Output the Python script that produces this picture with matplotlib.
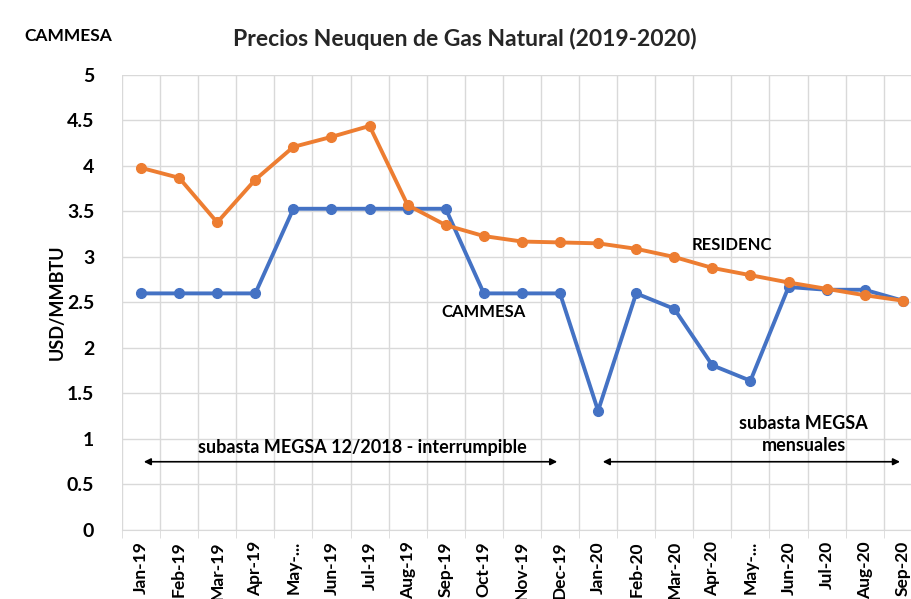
import matplotlib.pyplot as plt
import numpy as np

plt.rcParams["font.family"] = ["Lato", "DejaVu Sans"]

months = ["Jan-19", "Feb-19", "Mar-19", "Apr-19", "May-...", "Jun-19", "Jul-19",
          "Aug-19", "Sep-19", "Oct-19", "Nov-19", "Dec-19", "Jan-20", "Feb-20",
          "Mar-20", "Apr-20", "May-...", "Jun-20", "Jul-20", "Aug-20", "Sep-20"]
residenc = [3.98, 3.87, 3.38, 3.85, 4.21, 4.32, 4.44, 3.57, 3.35, 3.23, 3.17,
            3.16, 3.15, 3.09, 3.00, 2.88, 2.80, 2.72, 2.65, 2.58, 2.52]
cammesa = [2.60, 2.60, 2.60, 2.60, 3.53, 3.53, 3.53, 3.53, 3.53, 2.60, 2.60,
           2.60, 1.31, 2.60, 2.43, 1.81, 1.64, 2.67, 2.64, 2.64, 2.52]

fig = plt.figure(figsize=(9.11, 5.99), dpi=100)
ax = fig.add_axes([0.1339, 0.1152, 0.878, 0.7596])

x = np.arange(len(months))
ax.plot(x, cammesa, color="#4472C4", lw=2.8, marker="o", ms=7, zorder=3)
ax.plot(x, residenc, color="#ED7D31", lw=2.8, marker="o", ms=7, zorder=4)

ax.set_xlim(-0.5, len(months) - 0.5)
ax.set_ylim(0, 5)
ax.set_yticks(np.arange(0, 5.01, 0.5))
ax.set_yticklabels(["0", "0.5", "1", "1.5", "2", "2.5", "3", "3.5", "4", "4.5", "5"],
                   fontsize=14, fontweight="bold")
ax.set_xticks(x)
ax.set_xticklabels(months, rotation=90, fontsize=12.5, fontweight="bold")
ax.set_xticks(np.arange(-0.5, len(months), 1), minor=True)
ax.tick_params(axis="x", which="major", length=0, pad=8)
ax.tick_params(axis="x", which="minor", length=6, color="#d9d9d9")
ax.tick_params(axis="y", length=0, pad=20)

ax.grid(axis="y", color="#d9d9d9", lw=1)
ax.grid(axis="x", which="minor", color="#d9d9d9", lw=1)
for s in ["top", "right", "left"]:
    ax.spines[s].set_visible(False)
ax.spines["bottom"].set_color("#d9d9d9")

# y axis title placed by hand
fig.text(0.063, 0.496, "USD/MMBTU", fontsize=13, fontweight="bold", rotation=90,
         ha="center", va="center")

fig.text(0.075, 0.94, "CAMMESA", fontsize=12.5, fontweight="bold", ha="center", va="center")
fig.text(0.51, 0.935, "Precios Neuquen de Gas Natural (2019-2020)", fontsize=16.5,
         fontweight="bold", ha="center", va="center", color="#262626")

ax.text(15.5, 3.13, "RESIDENC", fontsize=12, fontweight="bold", ha="center", va="center")
ax.text(9.0, 2.4, "CAMMESA", fontsize=12, fontweight="bold", ha="center", va="center")
ax.text(5.8, 0.91, "subasta MEGSA 12/2018 - interrumpible", fontsize=13,
        fontweight="bold", ha="center", va="center")
ax.text(17.4, 1.05, "subasta MEGSA\nmensuales", fontsize=13, fontweight="bold",
        ha="center", va="center", linespacing=1.3)

arrow = dict(arrowstyle="<|-|>", color="black", lw=1.2, mutation_scale=10)
ax.annotate("", xy=(0, 0.75), xytext=(11.0, 0.75), arrowprops=arrow)
ax.annotate("", xy=(12.05, 0.75), xytext=(20.0, 0.75), arrowprops=arrow)

fig.savefig("out.png", dpi=100)
